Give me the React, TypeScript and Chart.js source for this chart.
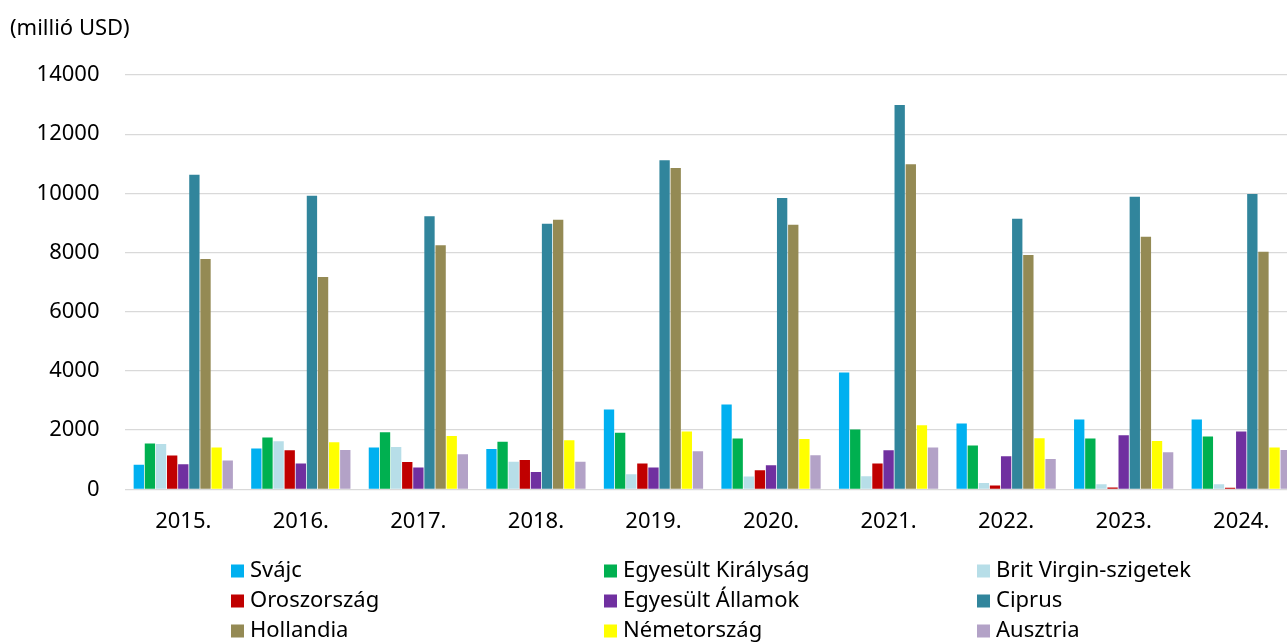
import React, { useEffect, useRef } from "react";
import { Chart, registerables } from "chart.js";

Chart.register(...registerables);

const years = ["2015.", "2016.", "2017.", "2018.", "2019.", "2020.", "2021.", "2022.", "2023.", "2024."];

const svajc = [830, 1375, 1410, 1365, 2695, 2865, 3950, 2220, 2360, 2360];
const egyesultKiralysag = [1545, 1750, 1930, 1610, 1915, 1715, 2020, 1480, 1715, 1780];
const britVirgin = [1530, 1625, 1430, 935, 505, 430, 440, 215, 170, 170];
const oroszorszag = [1140, 1320, 925, 990, 870, 640, 870, 125, 60, 55];
const egyesultAllamok = [845, 870, 735, 585, 735, 810, 1320, 1115, 1825, 1950];
const ciprus = [10630, 9920, 9225, 8975, 11120, 9840, 12990, 9140, 9885, 9980];
const hollandia = [7780, 7175, 8250, 9105, 10860, 8940, 10980, 7915, 8530, 8025];
const nemetorszag = [1410, 1590, 1800, 1655, 1950, 1700, 2165, 1725, 1635, 1410];
const ausztria = [970, 1330, 1185, 935, 1285, 1150, 1410, 1025, 1250, 1330];

const seriesNames = [
  "Svájc",
  "Egyesült Királyság",
  "Brit Virgin-szigetek",
  "Oroszország",
  "Egyesült Államok",
  "Ciprus",
  "Hollandia",
  "Németország",
  "Ausztria",
];
const seriesValues = [svajc, egyesultKiralysag, britVirgin, oroszorszag, egyesultAllamok, ciprus, hollandia, nemetorszag, ausztria];
const seriesColors = ["#00B0F0", "#00B050", "#B7DEE8", "#C00000", "#7030A0", "#31859C", "#948A54", "#FFFF00", "#B3A2C7"];

const yTicks = [0, 2000, 4000, 6000, 8000, 10000, 12000, 14000];
const unitLabel = "(millió USD)";

const FONT = '"Noto Sans", sans-serif';

const overlayPlugin = {
  id: "overlay",
  afterDraw(chart: any) {
    const ctx = chart.ctx;
    ctx.save();
    ctx.fillStyle = "#000";
    ctx.font = `22px ${FONT}`;
    ctx.textBaseline = "middle";
    ctx.textAlign = "left";
    ctx.fillText(unitLabel, 10, 29);
    const cols = [231, 604, 977];
    const rows = [571, 601, 631];
    chart.data.datasets.forEach((ds: any, i: number) => {
      const x = cols[i % 3];
      const y = rows[Math.floor(i / 3)];
      ctx.fillStyle = ds.backgroundColor;
      ctx.fillRect(x, y - 6.5, 13, 13);
      ctx.fillStyle = "#000";
      ctx.fillText(ds.label, x + 19, y);
    });
    ctx.restore();
  },
};

export default function App() {
  const ref = useRef<HTMLCanvasElement | null>(null);
  useEffect(() => {
    if (!ref.current) return;
    const chart = new Chart(ref.current, {
      type: "bar",
      data: {
        labels: years,
        datasets: seriesNames.map((name, i) => ({
          label: name,
          data: seriesValues[i],
          backgroundColor: seriesColors[i],
          borderWidth: 0,
          barPercentage: 0.93,
          categoryPercentage: 0.851,
        })),
      },
      options: {
        animation: false,
        responsive: false,
        devicePixelRatio: 1,
        layout: { padding: { top: 75, left: 0, right: 0, bottom: 0 } },
        plugins: {
          legend: { display: false },
          title: { display: false },
          tooltip: { enabled: false },
        },
        scales: {
          x: {
            grid: { display: false, drawTicks: false },
            border: { display: false },
            ticks: {
              color: "#000",
              font: { family: FONT, size: 22 },
              padding: 19,
              maxRotation: 0,
            },
            afterFit(scale: any) {
              scale.height = 152.7;
            },
          },
          y: {
            min: 0,
            max: 14000,
            afterBuildTicks(scale: any) {
              scale.ticks = yTicks.map((v) => ({ value: v }));
            },
            grid: { color: "#D9D9D9", lineWidth: 1.3, drawTicks: false },
            border: { display: false },
            ticks: {
              color: "#000",
              font: { family: FONT, size: 22 },
              padding: 25,
              callback: (v: any) => String(v),
            },
            afterFit(scale: any) {
              scale.width = 124.5;
            },
          },
        },
      },
      plugins: [overlayPlugin],
    });
    return () => chart.destroy();
  }, []);
  return (
    <div style={{ position: "fixed", left: 0, top: 0, width: 1287, height: 642, overflow: "hidden", background: "#fff" }}>
      <canvas ref={ref} width={1300} height={642} style={{ width: 1300, height: 642, display: "block" }} />
    </div>
  );
}
